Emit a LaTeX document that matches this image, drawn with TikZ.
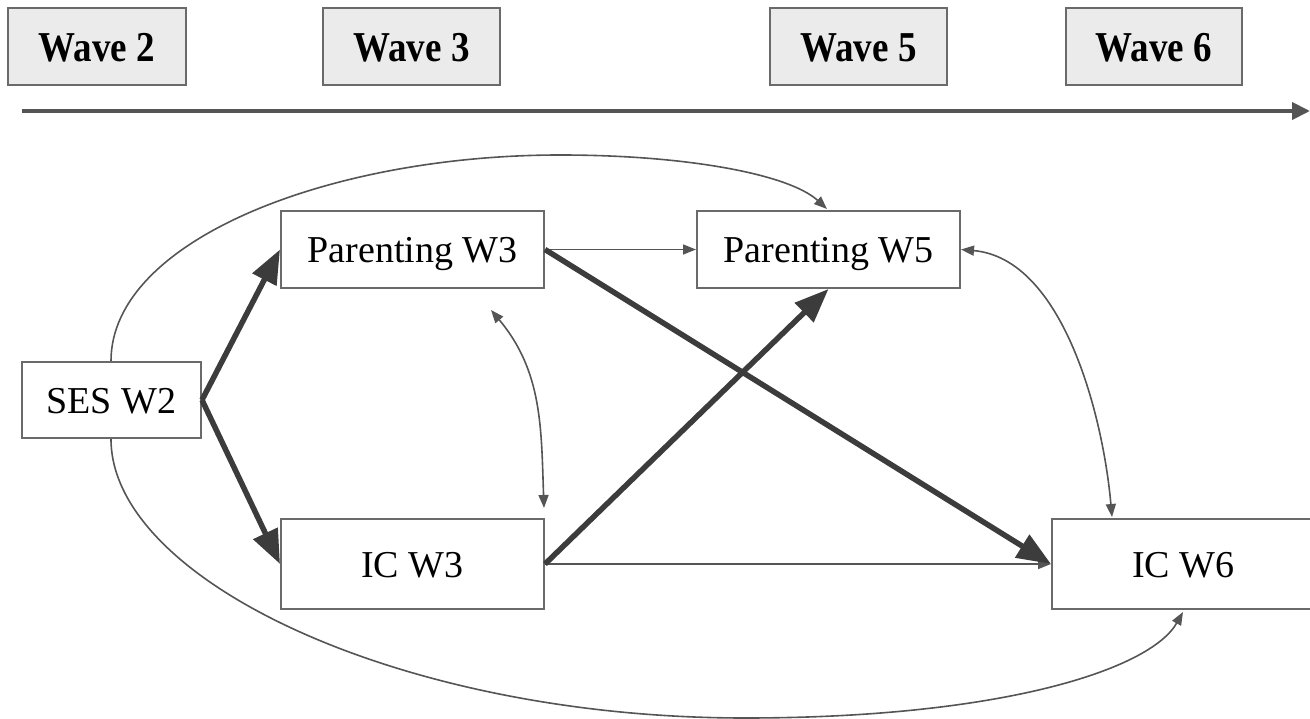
\documentclass[tikz,border=0pt]{standalone}
\usepackage{fontspec}
\setmainfont{Liberation Serif}
\usetikzlibrary{arrows.meta,calc}
\definecolor{boxgray}{HTML}{6A6A6A}
\definecolor{wavefill}{HTML}{EBEBEB}
\definecolor{linedark}{HTML}{3C3C3C}
\definecolor{linemid}{HTML}{555555}
\newcommand{\tallbold}[1]{\scalebox{1}[1.15]{\bfseries #1}}
\begin{document}
\begin{tikzpicture}[x={(1pt,0pt)},y={(0pt,-1pt)},
  wavebox/.style={draw=boxgray, fill=wavefill, line width=2pt, inner sep=0pt,
    minimum height=77pt, text height=30pt, text depth=0pt,
    font=\fontsize{37}{40}\selectfont},
  varbox/.style={draw=boxgray, fill=white, line width=2pt, inner sep=0pt,
    minimum width=263pt, text height=27pt, text depth=0pt,
    font=\fontsize{38}{40}\selectfont},
  boldpath/.style={draw=linedark, line width=5.5pt,
    -{Triangle[length=34pt,width=26pt]}},
  lightpath/.style={draw=linemid, line width=1.6pt,
    -{Triangle[length=13pt,width=10pt]}},
  twoway/.style={draw=linemid, line width=1.6pt,
    {Triangle[length=13pt,width=10pt]}-{Triangle[length=13pt,width=10pt]}},
  timeline/.style={draw=linemid, line width=4pt,
    -{Triangle[length=18pt,width=17pt]}}
]
\useasboundingbox (0,0) rectangle (1310,719);
\clip (0,0) rectangle (1310,719);

% wave labels along the top
\node[wavebox, minimum width=178pt] (w2) at (97,46.5) {\tallbold{Wave 2}};
\node[wavebox, minimum width=177pt] (w3) at (411.5,46.5) {\tallbold{Wave 3}};
\node[wavebox, minimum width=177pt] (w5) at (858.5,46.5) {\tallbold{Wave 5}};
\node[wavebox, minimum width=176pt] (w6) at (1154,46.5) {\tallbold{Wave 6}};

% time axis
\coordinate (tStart) at (22,111);
\coordinate (tEnd) at (1310,111);
\draw[timeline] (tStart) -- (tEnd);

% variables
\node[varbox, minimum width=179pt, minimum height=76pt] (ses) at (111.5,400) {SES W2};
\node[varbox, minimum height=77pt] (p3) at (412.5,249.5) {Parenting W3};
\node[varbox, minimum height=77pt] (p5) at (828.5,249.5) {Parenting W5};
\node[varbox, minimum height=90pt] (ic3) at (412.5,564) {IC W3};
\node[varbox, minimum height=90pt] (ic6) at (1183.5,564) {IC W6};

% anchor points for the curved links
\coordinate (sesTop) at ($(ses.north)+(-0.5,0)$);
\coordinate (sesBot) at ($(ses.south)+(-0.5,0)$);
\coordinate (p5Top) at ($(p5.north)+(-1.5,-1)$);
\coordinate (ic6Bot) at ($(ic6.south)+(-0.5,2)$);
\coordinate (p3Below) at ($(p3.south)+(78.5,21)$);
\coordinate (ic3Above) at ($(ic3.north east)+(-1,-10)$);
\coordinate (ic6Top) at ($(ic6.north west)+(61,-1)$);

% long curved paths around the model
\draw[lightpath] (sesTop) .. controls (111,240) and (330,155) .. (560,155)
  .. controls (690,155) and (790,175) .. (p5Top);
\draw[lightpath] (sesBot) .. controls (111,580) and (400,718) .. (745,718)
  .. controls (1000,718) and (1150,670) .. (ic6Bot);

% straight paths
\draw[lightpath] (p3.east) -- (p5.west);
\draw[lightpath] (ic3.east) -- (ic6.west);
\draw[boldpath] (ses.east) -- (p3.west);
\draw[boldpath] (ses.east) -- (ic3.west);
\draw[boldpath] (p3.east) -- (ic6.west);
\draw[boldpath] (ic3.east) -- (p5.south);

% covariances
\draw[twoway] (ic3Above) to[out=92,in=-50] (p3Below);
\draw[twoway] (ic6Top) to[out=95,in=-5,looseness=0.85] (p5.east);
\end{tikzpicture}
\end{document}
